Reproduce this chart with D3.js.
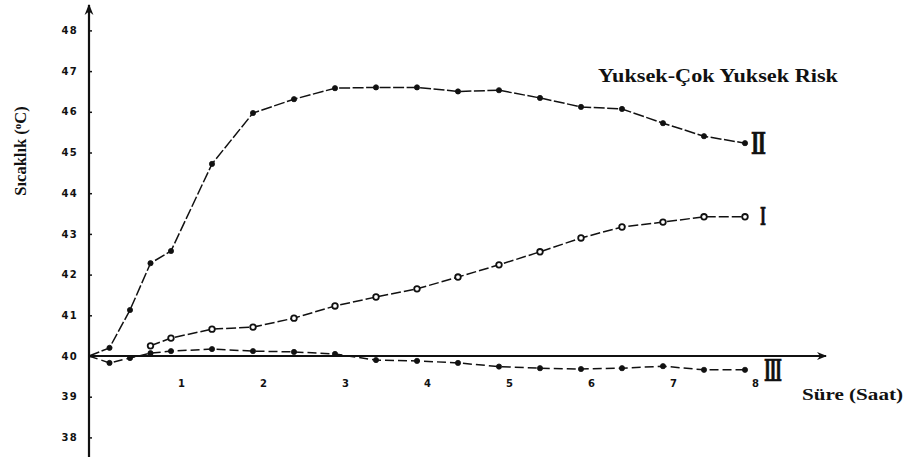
<!DOCTYPE html>
<html>
<head>
<meta charset="utf-8">
<script src="https://cdn.jsdelivr.net/npm/d3@7/dist/d3.min.js"></script>
<style>
  html, body { margin: 0; padding: 0; background: #fff; }
  svg { display: block; }
</style>
</head>
<body>
<svg id="chart" width="908" height="457"></svg>
<script>
// Temperature (°C) against time (hours) for three risk groups
const yTicks = [38, 39, 40, 41, 42, 43, 44, 45, 46, 47, 48];
const xTicks = [1, 2, 3, 4, 5, 6, 7, 8];

const timesII = [0, 0.25, 0.5, 0.75, 1, 1.5, 2, 2.5, 3, 3.5, 4, 4.5, 5, 5.5, 6, 6.5, 7, 7.5, 8];
const valuesII = [40, 40.2, 41.13, 42.28, 42.58, 44.72, 45.97, 46.31, 46.58, 46.6, 46.6, 46.5, 46.53, 46.34, 46.12, 46.07, 45.72, 45.4, 45.23];

const timesI = [0.75, 1, 1.5, 2, 2.5, 3, 3.5, 4, 4.5, 5, 5.5, 6, 6.5, 7, 7.5, 8];
const valuesI = [40.25, 40.44, 40.66, 40.71, 40.93, 41.23, 41.45, 41.65, 41.94, 42.24, 42.56, 42.9, 43.17, 43.29, 43.42, 43.42];

const timesIII = [0, 0.25, 0.5, 0.75, 1, 1.5, 2, 2.5, 3, 3.5, 4, 4.5, 5, 5.5, 6, 6.5, 7, 7.5, 8];
const valuesIII = [40, 39.83, 39.95, 40.07, 40.12, 40.17, 40.12, 40.1, 40.05, 39.9, 39.88, 39.83, 39.74, 39.7, 39.68, 39.7, 39.75, 39.66, 39.66];

const seriesNames = ["Ⅱ", "Ⅰ", "Ⅲ"];
const titleText = "Yuksek-Çok Yuksek Risk";
const xTitle = "Süre (Saat)";

const svg = d3.select("#chart");
const x = d3.scaleLinear().domain([0, 8]).range([89, 745]);
const y = d3.scaleLinear().domain([40, 48]).range([356, 30.4]);

const ink = "#111";

// Arrowhead shared by both axes
svg.append("defs").append("marker")
  .attr("id", "arrow").attr("viewBox", "0 0 10 10")
  .attr("refX", 9).attr("refY", 5)
  .attr("markerWidth", 5).attr("markerHeight", 5)
  .attr("orient", "auto-start-reverse")
  .append("path").attr("d", "M0,1 L10,5 L0,9 L3,5 Z").attr("fill", ink);

// Y axis: long vertical line with arrow on top, small ticks
svg.append("line")
  .attr("x1", x(0)).attr("x2", x(0))
  .attr("y1", 457).attr("y2", 5)
  .attr("stroke", ink).attr("stroke-width", 2.2)
  .attr("marker-end", "url(#arrow)");

const yAxis = d3.axisRight(y).tickValues(yTicks).tickSize(3).tickFormat("");
svg.append("g").attr("transform", `translate(${x(0)},0)`).call(yAxis)
  .call(g => g.select(".domain").remove())
  .call(g => g.selectAll("line").attr("stroke", ink).attr("stroke-width", 1.5));

const tickFont = "DejaVu Sans, Liberation Sans, sans-serif";

svg.append("g").selectAll("text").data(yTicks).join("text")
  .attr("x", 78).attr("y", d => y(d))
  .attr("dy", "0.36em")
  .attr("text-anchor", "end")
  .attr("font-family", tickFont)
  .attr("font-weight", "bold").attr("font-size", 10)
  .attr("letter-spacing", 1.3)
  .attr("fill", ink)
  .text(d => d);

// X axis at 40 °C with arrow on the right
svg.append("line")
  .attr("x1", x(0)).attr("x2", 826)
  .attr("y1", y(40)).attr("y2", y(40))
  .attr("stroke", ink).attr("stroke-width", 2)
  .attr("marker-end", "url(#arrow)");

svg.append("g").selectAll("text").data(xTicks).join("text")
  .attr("x", d => x(d) + 10.5).attr("y", y(40) + 27)
  .attr("dy", "0.36em")
  .attr("text-anchor", "middle")
  .attr("font-family", tickFont)
  .attr("font-weight", "bold").attr("font-size", 10)
  .attr("fill", ink)
  .text(d => d);

// Axis titles
const yt = svg.append("text")
  .attr("transform", "translate(26,151) rotate(-90)")
  .attr("text-anchor", "middle")
  .attr("font-family", "Liberation Serif, Times New Roman, serif")
  .attr("font-weight", "bold").attr("font-size", 16.5)
  .attr("fill", ink);
yt.append("tspan").text("Sıcaklık (");
yt.append("tspan").attr("font-size", 11).attr("dy", -5).text("o");
yt.append("tspan").attr("dy", 5).text("C)");

svg.append("text")
  .attr("x", 802).attr("y", 400)
  .attr("font-family", "Liberation Serif, Times New Roman, serif")
  .attr("font-weight", "bold").attr("font-size", 16)
  .attr("textLength", 101).attr("lengthAdjust", "spacingAndGlyphs")
  .attr("fill", ink)
  .text(xTitle);

svg.append("text")
  .attr("x", 598).attr("y", 82)
  .attr("font-family", "Liberation Serif, Times New Roman, serif")
  .attr("font-weight", "bold").attr("font-size", 19)
  .attr("textLength", 240).attr("lengthAdjust", "spacingAndGlyphs")
  .attr("fill", ink)
  .text(titleText);

// Series
const series = [
  { name: seriesNames[0], t: timesII, v: valuesII, open: false, dash: "11,2.5", dx: 6, w: 15, fs: 30 },
  { name: seriesNames[1], t: timesI, v: valuesI, open: true, dash: "10,3", dx: 15, w: 6, fs: 24 },
  { name: seriesNames[2], t: timesIII, v: valuesIII, open: false, dash: "9,4", dx: 19, w: 18, fs: 30 }
];

const line = d3.line().x(d => x(d[0])).y(d => y(d[1]));

series.forEach(s => {
  const pts = s.t.map((t, i) => [t, s.v[i]]);
  svg.append("path")
    .datum(pts)
    .attr("d", line)
    .attr("fill", "none")
    .attr("stroke", ink)
    .attr("stroke-width", 1.5)
    .attr("stroke-dasharray", s.dash);

  svg.append("g").selectAll("circle").data(pts.filter(p => p[0] > 0)).join("circle")
    .attr("cx", d => x(d[0])).attr("cy", d => y(d[1]))
    .attr("r", s.open ? 2.8 : 2.6)
    .attr("fill", s.open ? "#fff" : ink)
    .attr("stroke", ink)
    .attr("stroke-width", s.open ? 1.8 : 0.8);

  const last = pts[pts.length - 1];
  svg.append("text")
    .attr("x", x(last[0]) + s.dx).attr("y", y(last[1]))
    .attr("dy", "0.36em")
    .attr("font-family", "DejaVu Serif, DejaVu Sans, serif")
    .attr("font-weight", "bold")
    .attr("font-size", s.fs)
    .attr("textLength", s.w).attr("lengthAdjust", "spacingAndGlyphs")
    .attr("fill", ink)
    .attr("stroke", ink).attr("stroke-width", 0.6)
    .text(s.name);
});
</script>
</body>
</html>
